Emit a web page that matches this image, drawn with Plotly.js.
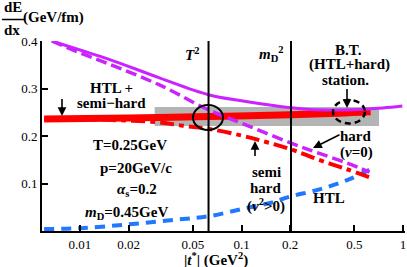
<!DOCTYPE html>
<html><head><meta charset="utf-8">
<script src="https://cdn.plot.ly/plotly-3.0.1.min.js"></script>
<style>html,body{margin:0;padding:0;background:#fff}#c{width:407px;height:267px}</style>
</head><body><div id="c"></div>
<script>
// ---- data ----
const T2 = 0.0625;          // T^2 (GeV^2)
const mD2 = 0.2025;         // m_D^2 (GeV^2)
const xBT   = [0.0067, 0.01, 0.015, 0.0313, 0.0625, 0.1, 0.173, 0.265, 0.4, 0.54, 0.75, 0.99];
const yBT   = [0.400, 0.381, 0.362, 0.322, 0.287, 0.274, 0.262, 0.256, 0.255, 0.256, 0.259, 0.263];
const xHard = [0.0067, 0.01, 0.015, 0.0313, 0.0625, 0.1, 0.2025, 0.3, 0.45, 0.62];
const yHard = [0.400, 0.375, 0.352, 0.307, 0.255, 0.227, 0.185, 0.164, 0.143, 0.124];
const xSemi = [0.006, 0.01, 0.015, 0.03, 0.045, 0.0625, 0.1, 0.14, 0.2025, 0.3, 0.45, 0.63];
const ySemi = [0.236, 0.236, 0.234, 0.229, 0.221, 0.215, 0.201, 0.188, 0.172, 0.150, 0.130, 0.112];
const xTot  = [0.006, 0.02, 0.0625, 0.2025, 0.4, 0.63];
const yTot  = [0.236, 0.238, 0.241, 0.245, 0.248, 0.251];
const xHTL  = [0.006, 0.01, 0.02, 0.04, 0.0625, 0.1, 0.15, 0.2025, 0.3, 0.45, 0.63];
const yHTL  = [0.004, 0.006, 0.014, 0.024, 0.031, 0.046, 0.059, 0.073, 0.087, 0.107, 0.130];
const bandX = [0.029, 0.71];
const bandY = [0.221, 0.261];
const xTicks = [0.01, 0.02, 0.05, 0.1, 0.2, 0.5, 1];
const xTickText = ["0.01", "0.02", "0.05", "0.1", "0.2", "0.5", "1"];
const yTicks = [0.1, 0.2, 0.3, 0.4];
const yTickText = ["0.1", "0.2", "0.3", "0.4"];

// ---- layout helpers ----
const W = 407, H = 267, M = {l: 42, r: 2, t: 41, b: 36};
const pw = W - M.l - M.r, ph = H - M.t - M.b;
const PX = px => (px - M.l) / pw;
const PY = py => (H - M.b - py) / ph;
const FONT = "'Liberation Serif', 'Times New Roman', serif";
const PURPLE = "#cc22ff", RED = "#ff0000", BLUE = "#1f78ff";

const traces = [
  {x: [bandX[0], bandX[1], bandX[1], bandX[0], bandX[0]],
   y: [bandY[0], bandY[0], bandY[1], bandY[1], bandY[0]],
   fill: "toself", fillcolor: "#b4b4b4", line: {width: 0}, mode: "lines"},
  {x: xTot, y: yTot, mode: "lines", line: {color: RED, width: 7, shape: "spline"}},
  {x: xHTL, y: yHTL, mode: "lines", line: {color: BLUE, width: 4, dash: "10px,7px", shape: "spline"}},
  {x: xSemi, y: ySemi, mode: "lines", line: {color: RED, width: 4, dash: "14px,5px,5px,5px", shape: "spline"}},
  {x: xHard, y: yHard, mode: "lines", line: {color: PURPLE, width: 3.5, dash: "11px,5px", shape: "spline"}},
  {x: xBT, y: yBT, mode: "lines", line: {color: PURPLE, width: 3, shape: "spline"}},
  {x: [T2, T2], y: [0, 0.4], mode: "lines", line: {color: "#000", width: 2}},
  {x: [mD2, mD2], y: [0, 0.4], mode: "lines", line: {color: "#000", width: 2}}
];

function txt(t, px, py, size) {
  return {text: t, xref: "paper", yref: "paper", x: PX(px), y: PY(py),
          xanchor: "center", yanchor: "middle", showarrow: false,
          font: {family: FONT, size: size || 15, color: "#000"}};
}
function arr(tipx, tipy, tailx, taily) {
  return {text: " ", xref: "paper", yref: "paper", x: PX(tipx), y: PY(tipy),
          ax: tailx - tipx, ay: taily - tipy, showarrow: true,
          arrowhead: 2, arrowsize: 1.1, arrowwidth: 1.6, arrowcolor: "#000",
          font: {size: 1}};
}

const annotations = [
  txt("<b>dE</b>", 13, 7, 15),
  txt("<b>dx</b>", 12, 30, 15),
  txt("<b>(GeV/fm)</b>", 53, 17, 15),
  txt("<b>HTL +</b>", 111, 88),
  txt("<b>semi\u2212hard</b>", 111, 103),
  txt("<b>T=0.25GeV</b>", 130, 145),
  txt("<b>p=20GeV/c</b>", 136, 168),
  txt("<b><i>\u03b1</i><sub>s</sub>=0.2</b>", 137, 190),
  txt("<b><i>m</i><sub>D</sub>=0.45GeV</b>", 126, 213),
  txt("<b>semi</b>", 266, 172),
  txt("<b>hard</b>", 266, 188),
  txt("<b>(<i>\u03bd</i><sup>2</sup>>0)</b>", 266, 205),
  txt("<b>hard</b>", 356, 136),
  txt("<b>(<i>\u03bd</i>=0)</b>", 356, 152),
  txt("<b>HTL</b>", 329, 198),
  txt("<b>B.T.</b>", 348, 50),
  txt("<b>(HTL+hard)</b>", 349, 65),
  txt("<b>station.</b>", 345, 80),
  txt("<b><i>T</i><sup>2</sup></b>", 192, 54),
  txt("<b><i>m</i><sub>D</sub><sup>2</sup></b>", 271, 54),
  txt("<b>|<i>t</i><sup>*</sup>| (GeV<sup>2</sup>)</b>", 216, 259),
  arr(62, 116, 62, 97),
  arr(255, 141, 255, 158),
  arr(313, 148, 341, 134),
  arr(347, 108, 347, 87)
];

const shapes = [
  {type: "line", xref: "paper", yref: "paper", x0: PX(2), x1: PX(25), y0: PY(19.5), y1: PY(19.5),
   line: {color: "#000", width: 1.5}},
  {type: "circle", xref: "paper", yref: "paper",
   x0: PX(193), x1: PX(223), y0: PY(130), y1: PY(105),
   line: {color: "#000", width: 2}},
  {type: "circle", xref: "paper", yref: "paper",
   x0: PX(333), x1: PX(365), y0: PY(123.5), y1: PY(100),
   line: {color: "#000", width: 2.5, dash: "6px,4px"}}
];

const layout = {
  width: W, height: H, margin: M, showlegend: false,
  paper_bgcolor: "#fff", plot_bgcolor: "#fff",
  font: {family: FONT, size: 13, color: "#000"},
  xaxis: {type: "log", range: [-2.235, 0.012], tickvals: xTicks, ticktext: xTickText,
          ticks: "inside", ticklen: 6, tickwidth: 2, tickcolor: "#000",
          showline: true, linecolor: "#000", linewidth: 2, showgrid: false, zeroline: false,
          tickfont: {family: FONT, size: 13}},
  yaxis: {range: [0, 0.4], tickvals: yTicks, ticktext: yTickText,
          ticks: "inside", ticklen: 6, tickwidth: 2, tickcolor: "#000",
          showline: true, linecolor: "#000", linewidth: 2, showgrid: false, zeroline: false,
          tickfont: {family: FONT, size: 13}},
  annotations: annotations,
  shapes: shapes
};

Plotly.newPlot("c", traces, layout, {staticPlot: true, displayModeBar: false});
</script></body></html>
